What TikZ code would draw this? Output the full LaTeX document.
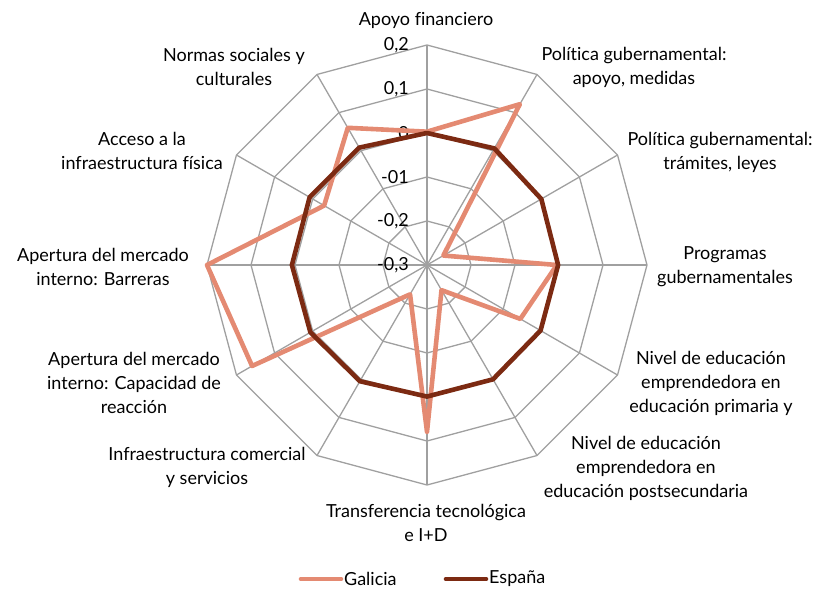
\documentclass[tikz,border=0pt]{standalone}
\usepackage{fontspec}
\setmainfont[Ligatures=NoCommon]{Lato}
\usetikzlibrary{positioning}
\definecolor{gridgray}{RGB}{160,160,160}
\definecolor{galiciasalmon}{RGB}{228,138,114}
\definecolor{espanabrown}{RGB}{124,42,18}

\begin{document}
\begin{tikzpicture}[x=1pt, y=1pt,
  axislabel/.style={font=\fontsize{18}{24}\selectfont, align=center},
  ticklabel/.style={font=\fontsize{18}{20}\selectfont, anchor=east, inner sep=0pt},
  serie/.style={line width=4.6pt, line join=round}]
  \useasboundingbox (-427,-327) rectangle (389,265);

  % Grid: rings and spokes
  \foreach \r in {44,88,132,176,220}
    \draw[gridgray, line width=1.3pt] (90:\r) \foreach \a in {60,30,...,-240} { -- (\a:\r) } -- cycle;
  \foreach \a in {0,30,...,330}
    \draw[gridgray, line width=1.3pt] (0,0) -- (\a:220);

  % Scale
  \node[ticklabel] (t2) at (-18,220) {0,2};
  \node[ticklabel] (t1) at (-18,176) {0,1};
  \node[ticklabel] (t0) at (-18,132) {0};
  \node[ticklabel] (tm1) at (-18,88) {-01};
  \node[ticklabel] (tm2) at (-18,44) {-0,2};
  \node[ticklabel] (tm3) at (-18,0) {-0,3};

  % Series
  \foreach \v [count=\i] in {0.003,0.122,-0.257,-0.005,-0.055,-0.234,0.079,-0.223,0.159,0.2,-0.03,0.06}
    \coordinate (g\i) at ({120-30*\i}:{(\v+0.3)*440});
  \foreach \v [count=\i] in {0.0,0.006,0.0,-0.002,-0.002,0.0,-0.001,0.005,0.006,0.007,0.008,0.008}
    \coordinate (e\i) at ({120-30*\i}:{(\v+0.3)*440});
  \draw[serie, galiciasalmon] (g1) -- (g2) -- (g3) -- (g4) -- (g5) -- (g6) -- (g7) -- (g8) -- (g9) -- (g10) -- (g11) -- (g12) -- cycle;
  \draw[serie, espanabrown] (e1) -- (e2) -- (e3) -- (e4) -- (e5) -- (e6) -- (e7) -- (e8) -- (e9) -- (e10) -- (e11) -- (e12) -- cycle;

  % Axis labels
  \node[axislabel] (apoyo) at (-1,245) {Apoyo financiero};
  \node[axislabel] (polapoyo) at (207,198) {Política gubernamental:\\apoyo, medidas};
  \node[axislabel] (poltram) at (293,113) {Política gubernamental:\\trámites, leyes};
  \node[axislabel] (programas) at (298,-2) {Programas\\gubernamentales};
  \node[axislabel] (primaria) at (284,-118) {Nivel de educación\\emprendedora en\\educación primaria y};
  \node[axislabel] (postsec) at (219,-203) {Nivel de educación\\emprendedora en\\educación postsecundaria};
  \node[axislabel] (transf) at (-1,-258) {Transferencia tecnológica\\e I+D};
  \node[axislabel] (infracom) at (-220,-202) {Infraestructura comercial\\y servicios};
  \node[axislabel] (capacidad) at (-293,-118) {Apertura del mercado\\interno: Capacidad de\\reacción};
  \node[axislabel] (barreras) at (-324,-2) {Apertura del mercado\\interno: Barreras};
  \node[axislabel] (acceso) at (-285,114) {Acceso a la\\infraestructura física};
  \node[axislabel] (normas) at (-193,198) {Normas sociales y\\culturales};

  % Legend
  \node[axislabel, anchor=west, inner sep=0pt] (lgal) at (-83,-314) {Galicia};
  \node[axislabel, anchor=west, inner sep=0pt] (lesp) at (62,-314) {España};
  \draw[serie, galiciasalmon, line cap=round] ([xshift=-43pt]lgal.west) -- ([xshift=-3pt]lgal.west);
  \draw[serie, espanabrown, line cap=round] ([xshift=-43pt]lesp.west) -- ([xshift=-3pt]lesp.west);
\end{tikzpicture}
\end{document}
